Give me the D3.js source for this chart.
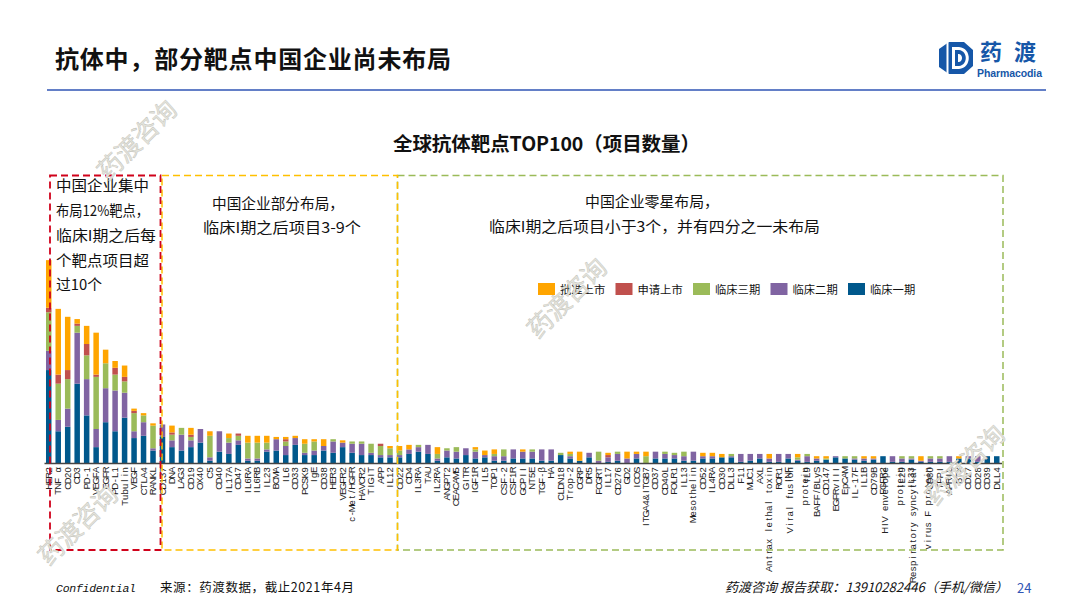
<!DOCTYPE html>
<meta charset="utf-8">
<style>
    body{margin:0;background:#fff;}
    text{font-family:"Noto Sans CJK SC",sans-serif;fill:#111;}
    .tick text{font-family:"Liberation Sans",sans-serif;font-size:9.5px;fill:#222;}
</style>

<div id="my_dataviz"></div>

<script src="https://d3js.org/d3.v7.min.js"></script>
<script>
    // tick labels, "\n" is a wrapped label
    var categories = ["HER2","TNF α","CD20","CD3","PD-1","VEGFA","EGFR","PD-L1","Tubulin","VEGF","CTLA4","RANKL",
        "CD137","DNA","LAG3","CD19","OX40","C5","CD40","IL17A","CD47","IL6RA","IL6RB","IL23","BCMA","IL6","CD33","PCSK9","IgE","CD38","HER3","VEGFR2","c-Met/HGFR","HAVCR2","TIGIT","APP","IL12",
        "CD22","CD4","IL3RA","TAU","IL2RA","ANGPT2","CEACAM5","GITR","IGF1R","IL5","TOP1","CSF-2","CSF1R","GCPII","NT5E","TGF-β","HA","CLDN18","Trop-2","CGRP","DR5","FCGRT","IL17","CD276","GD2","ICOS","ITGA4&ITGB7","CD37","CD40L","FOLR1","IL13","Mesothelin",
        "CD52","IL4RA","CD30","DLL3","F11","MUC1","AXL","Antrax lethal toxin","ROR1","INF","Viral fusion\nprotein","IL9","BAFF/BLyS","CD147","EGFRvIII","EpCAM","IL-17F","IL1B","CD79B","FGFR2","HIV envelope\nprotein","IL29","IL33","Respiratory syncytial\nvirus F protein","CD80","TFPI","APRIL","BTX","CD27","CD28","CD39","DLL4"];

    var phase1 = [82,28,32,70,42,14,36,28,40,22,24,11,
        23,14,11,14,18,2,10,8,16,2,2,10,11,7,16,7,7,11,9,14,9,7,7,5,5,
        5,8,10,8,2,5,4,7,4,5,2,2,4,4,4,2,2,7,4,2,5,0,1,2,0,4,0,4,4,4,2,2,
        4,4,5,5,1,2,4,1,1,4,2,1,2,3,5,4,3,2,3,6,1,1,3,1,1,1,1,4,4,1,6,6];
    var phase2 = [17,10,16,45,32,16,30,36,22,6,12,2,
        11,6,14,6,12,3,18,10,4,2,2,2,10,8,6,2,4,4,10,4,8,10,2,2,2,
        2,4,4,8,2,6,6,6,6,2,4,4,8,6,6,10,10,0,2,0,4,2,4,6,4,4,0,6,4,3,4,8,
        2,2,0,1,7,6,4,3,7,4,1,5,2,0,1,0,1,2,1,0,5,3,1,1,3,3,5,0,2,5,0,0];
    var phase3 = [34,32,26,6,21,46,22,14,10,16,6,20,
        0,5,6,3,0,19,0,4,4,14,14,6,0,4,0,8,8,0,2,0,2,2,8,8,6,
        4,0,2,0,4,2,4,0,2,0,2,6,0,0,2,0,0,2,2,0,0,8,0,2,0,0,6,0,2,2,4,0,
        0,0,0,2,0,0,0,0,0,0,2,2,0,1,0,2,2,0,0,0,0,2,2,0,2,2,0,0,0,0,0,0];
    var filing = [4,8,8,2,10,2,0,6,4,2,0,0,
        0,2,0,2,0,0,0,0,2,0,0,0,0,2,0,0,0,0,0,0,0,0,0,2,0,
        0,0,0,0,0,0,0,0,0,0,0,0,0,0,0,0,0,0,0,0,0,0,2,0,0,0,0,0,0,0,0,0,
        0,0,0,0,0,0,0,0,0,0,0,0,0,0,0,0,0,0,0,0,0,0,0,0,0,0,0,0,0,0,0,0];
    var approved = [42,58,47,4,16,37,12,6,10,2,2,2,
        0,6,0,6,0,4,0,4,0,6,6,6,2,2,2,4,2,6,0,2,0,0,0,0,2,
        4,4,0,0,6,0,0,0,2,4,4,0,0,2,0,0,0,0,2,8,0,0,2,0,6,2,4,0,0,0,0,0,
        3,3,3,0,0,0,0,4,0,0,3,0,2,2,0,0,0,2,2,0,0,0,0,4,0,0,0,2,0,0,0,0];

    var seriesNames = ["批准上市","申请上市","临床三期","临床二期","临床一期"];
    var seriesColors = ["#FFA500","#C0504D","#9BBB59","#8064A2","#00588C"];
    var seriesValues = [approved,filing,phase3,phase2,phase1];

    var svg = d3.select("#my_dataviz")
        .append("svg")
        .attr("width", 1080)
        .attr("height", 608)
        .style("display", "block");

    // header
    svg.append("text").attr("x", 55).attr("y", 68)
        .attr("textLength", 396)
        .style("font-size", "24px").style("font-weight", 700)
        .text("抗体中，部分靶点中国企业尚未布局");
    svg.append("line").attr("x1", 47).attr("x2", 1046).attr("y1", 90).attr("y2", 90)
        .attr("stroke", "#2F55B5").attr("stroke-width", 1.5);

    // logo
    var logo = svg.append("g").attr("transform", "translate(956,58)");
    logo.append("path")
        .attr("d", "M-7,-16 L8,-16 L17,-8 L17,8 L8,16 L-7,16 L-17,9 L-17,-9 Z")
        .attr("fill", "#1657A8");
    logo.append("path").attr("d", "M-9.5,-16 L-7.5,-16 L-7.5,16 L-9.5,16 Z").attr("fill", "#fff");
    logo.append("path").attr("d", "M-4,-11 L3,-11 C16,-10 16,10 3,11 L-4,11 Z").attr("fill", "#fff");
    logo.append("path").attr("d", "M-1,-8 L3,-8 C12,-7 12,7 3,8 L-1,8 Z").attr("fill", "#1657A8");
    logo.append("path").attr("d", "M2,-4 L3,-4 C7,-3 7,3 3,4 L2,4 Z").attr("fill", "#fff");
    svg.append("text").attr("x", 980).attr("y", 60)
        .style("font-size", "22px").style("font-weight", 700).style("fill", "#1657A8").style("letter-spacing", "12px")
        .text("药渡");
    svg.append("text").attr("x", 977).attr("y", 76.5)
        .attr("textLength", 65)
        .style("font-family", "Liberation Sans").style("font-size", "10.5px").style("font-weight", 700).style("fill", "#1657A8")
        .text("Pharmacodia");

    svg.append("text").attr("x", 393).attr("y", 151)
        .attr("textLength", 307)
        .style("font-size", "19.5px").style("font-weight", 700)
        .text("全球抗体靶点TOP100（项目数量）");

    var x = d3.scaleBand()
        .domain(categories)
        .range([44, 1001.5])
        .paddingInner(0.42)
        .paddingOuter(0.21);

    var y = d3.scaleLinear()
        .domain([0, 180])
        .range([463, 259]);

    var rows = categories.map(function(c, i) {
        var row = {cat: c};
        seriesNames.forEach(function(s, j) { row[s] = seriesValues[j][i]; });
        return row;
    });

    // stack from the first phase up to approved
    var stack = d3.stack().keys(seriesNames.slice().reverse())(rows);
    var color = d3.scaleOrdinal().domain(seriesNames).range(seriesColors);

    svg.selectAll("g.layer")
        .data(stack)
        .enter()
        .append("g")
        .attr("class", "layer")
        .attr("fill", function(d) { return color(d.key); })
        .selectAll("rect")
        .data(function(d) { return d; })
        .enter()
        .append("rect")
        .attr("x", function(d) { return x(d.data.cat); })
        .attr("y", function(d) { return y(d[1]); })
        .attr("width", x.bandwidth())
        .attr("height", function(d) { return y(d[0]) - y(d[1]); });

    // X axis, labels turned and wrapped by hand, each letter in an equal cell
    var charW = 5.5;
    var axis = svg.append("g")
        .attr("transform", "translate(0,463)")
        .call(d3.axisBottom(x).tickSize(0));
    axis.select(".domain").attr("stroke", "#444").attr("stroke-width", 1.4);
    axis.selectAll(".tick text").each(function(d) {
        var t = d3.select(this);
        var lines = d.split("\n");
        t.text(null)
            .attr("transform", "rotate(-90)")
            .attr("text-anchor", "middle")
            .attr("x", null)
            .attr("y", 0)
            .attr("dy", null);
        lines.forEach(function(l, i) {
            var cells = l.split("").map(function(c, k) {
                return -4 - (l.length - k - 0.5) * charW;
            });
            t.append("tspan")
                .attr("x", cells.join(" "))
                .attr("y", (i - (lines.length - 1) / 2) * 15 + 3)
                .text(l);
        });
    });

    // dashed boxes
    var boxes = [
        {x: 397.5, w: 605.5, c: "#9BBB59", s: 1.5},
        {x: 162, w: 235.5, c: "#FFC000", s: 1.5},
        {x: 50, w: 110.5, c: "#D0021B", s: 1.8}
    ];
    svg.selectAll("rect.box")
        .data(boxes)
        .enter()
        .append("rect")
        .attr("class", "box")
        .attr("x", function(d) { return d.x; })
        .attr("y", 175.5)
        .attr("width", function(d) { return d.w; })
        .attr("height", 374.5)
        .attr("fill", "none")
        .attr("stroke", function(d) { return d.c; })
        .attr("stroke-width", function(d) { return d.s; })
        .attr("stroke-dasharray", "7,4");

    // notes
    var notes = [
        {x: 56, y: 191, w: 93, t: "中国企业集中"},
        {x: 56, y: 216, w: 93, t: "布局12%靶点，"},
        {x: 56, y: 241, w: 100, t: "临床I期之后每"},
        {x: 56, y: 266, w: 93, t: "个靶点项目超"},
        {x: 56, y: 290, w: 46, t: "过10个"},
        {x: 212, y: 209, w: 132, t: "中国企业部分布局，"},
        {x: 203, y: 233, w: 158, t: "临床I期之后项目3-9个"},
        {x: 585, y: 207, w: 134, t: "中国企业零星布局，"},
        {x: 489, y: 232, w: 331, t: "临床I期之后项目小于3个，并有四分之一未布局"}
    ];
    svg.selectAll("text.note")
        .data(notes)
        .enter()
        .append("text")
        .attr("class", "note")
        .attr("x", function(d) { return d.x; })
        .attr("y", function(d) { return d.y; })
        .attr("textLength", function(d) { return d.w; })
        .attr("lengthAdjust", "spacingAndGlyphs")
        .style("font-size", "15px")
        .text(function(d) { return d.t; });

    // legend
    var legendX = d3.scalePoint().domain(seriesNames).range([538, 848]);
    var legend = svg.selectAll("g.legend")
        .data(seriesNames)
        .enter()
        .append("g")
        .attr("class", "legend")
        .attr("transform", function(d) { return "translate(" + legendX(d) + ",283)"; });
    legend.append("rect")
        .attr("width", 17)
        .attr("height", 12)
        .attr("fill", function(d) { return color(d); });
    legend.append("text")
        .attr("x", 22)
        .attr("y", 10.5)
        .style("font-size", "11.3px")
        .text(function(d) { return d; });

    // footer
    svg.append("text").attr("x", 56).attr("y", 592)
        .attr("textLength", 80)
        .style("font-family", "Liberation Mono").style("font-style", "italic").style("font-size", "11.5px")
        .text("Confidential");
    svg.append("text").attr("x", 160).attr("y", 592)
        .attr("textLength", 194)
        .style("font-size", "12.5px")
        .text("来源：药渡数据，截止2021年4月");
    svg.append("text").attr("x", 725).attr("y", 592)
        .attr("textLength", 283)
        .style("font-size", "13px").style("font-style", "italic")
        .text("药渡咨询 报告获取：13910282446（手机/微信）");
    svg.append("text").attr("x", 1017).attr("y", 593)
        .style("font-size", "13px").style("fill", "#2F55B5")
        .text("24");

    // watermarks
    var marks = [[137, 140], [78, 525], [567, 298], [965, 465]];
    svg.selectAll("text.mark")
        .data(marks)
        .enter()
        .append("text")
        .attr("class", "mark")
        .attr("text-anchor", "middle")
        .attr("transform", function(d) { return "translate(" + d[0] + "," + d[1] + ") rotate(-45)"; })
        .attr("dy", 9)
        .style("font-size", "25px")
        .style("fill", "#e4e4dc")
        .style("stroke", "#bcbcb4")
        .style("stroke-width", 0.4)
        .text("药渡咨询");
</script>
